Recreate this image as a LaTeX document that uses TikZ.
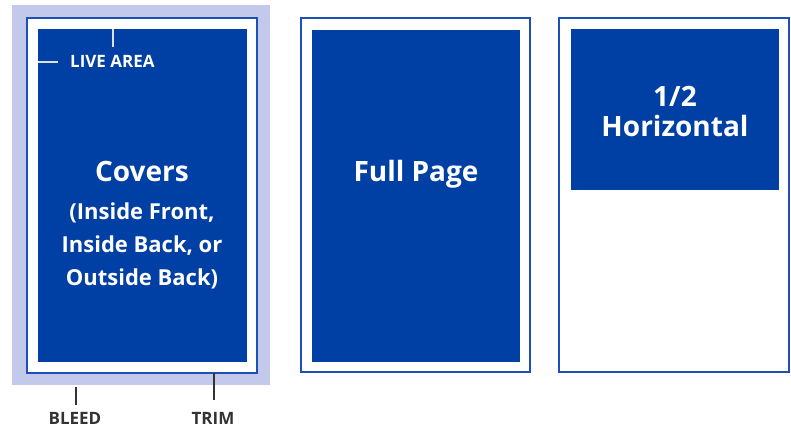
\documentclass[tikz,border=0pt]{standalone}
\usepackage{fontspec}
\setmainfont{Open Sans}
\usepackage{tikz}
\usetikzlibrary{positioning}

\definecolor{adblue}{HTML}{003FA3}
\definecolor{bleedtint}{HTML}{C2C9EA}
\definecolor{trimblue}{HTML}{1C50B8}
\definecolor{leadergray}{HTML}{333333}

\begin{document}
\begin{tikzpicture}[
  x=1pt, y=-1pt,
  every node/.style={font=\bfseries},
  bleedbox/.style={rectangle, fill=bleedtint, inner sep=0pt},
  trimbox/.style={rectangle, draw=trimblue, line width=2pt, fill=white, inner sep=0pt},
  livebox/.style={rectangle, fill=adblue, inner sep=0pt},
  adtext/.style={text=white, align=center, inner sep=0pt, anchor=base},
  bigtext/.style={adtext, font=\fontsize{28}{30}\selectfont\bfseries},
  caption/.style={text=leadergray, font=\fontsize{17}{19}\selectfont\bfseries, inner sep=0pt, anchor=base},
  leader/.style={draw=leadergray, line width=1.6pt},
  liveleader/.style={draw=white!85!adblue, line width=1.6pt},
]
\useasboundingbox (0,0) rectangle (791,427);

% Covers: bleed, trim and live area
\node[bleedbox, minimum width=258pt, minimum height=380pt] (bleed) at (141,195) {};
\node[trimbox, minimum width=230pt, minimum height=355pt] (trim) at (142,195.5) {};
\node[livebox, minimum width=209pt, minimum height=333pt] (live) at (142.5,195.5) {};
\node[bigtext] (covers) at (142,182) {Covers};
\node[adtext, font=\fontsize{22}{33}\selectfont\bfseries] (coversub) at (142,285)
  {(Inside Front,\\Inside Back, or\\Outside Back)};

% Live area marker
\node[adtext, anchor=base west, font=\fontsize{17}{19}\selectfont\bfseries] (livelbl) at (70,68) {LIVE AREA};
\coordinate (livetop) at (113,29);
\coordinate (liveleft) at (38,62);
\draw[liveleader] (livetop) -- ++(0,18);
\draw[liveleader] (liveleft) -- (liveleft -| 58,0);

% Bleed and trim markers
\node[caption] (bleedlbl) at (75,424) {BLEED};
\node[caption] (trimlbl) at (213,424) {TRIM};
\coordinate (bleedtick) at (76,387);
\coordinate (trimtick) at (214,373);
\draw[leader] (bleedtick) -- (bleedtick |- 0,405);
\draw[leader] (trimtick) -- (trimtick |- 0,400);

% Full page
\node[trimbox, minimum width=229pt, minimum height=354pt] (fulltrim) at (415.5,195) {};
\node[livebox, minimum width=208pt, minimum height=332pt] (fulllive) at (416,196) {};
\node[bigtext] (fulllbl) at (416,182) {Full Page};

% Half page horizontal
\node[trimbox, minimum width=230pt, minimum height=354pt] (halftrim) at (674,195) {};
\node[livebox, minimum width=208pt, minimum height=161pt] (halflive) at (675,109.5) {};
\node[bigtext] (halfnum) at (675,107) {1/2};
\node[bigtext] (halflbl) at (675,137) {Horizontal};

\end{tikzpicture}
\end{document}
